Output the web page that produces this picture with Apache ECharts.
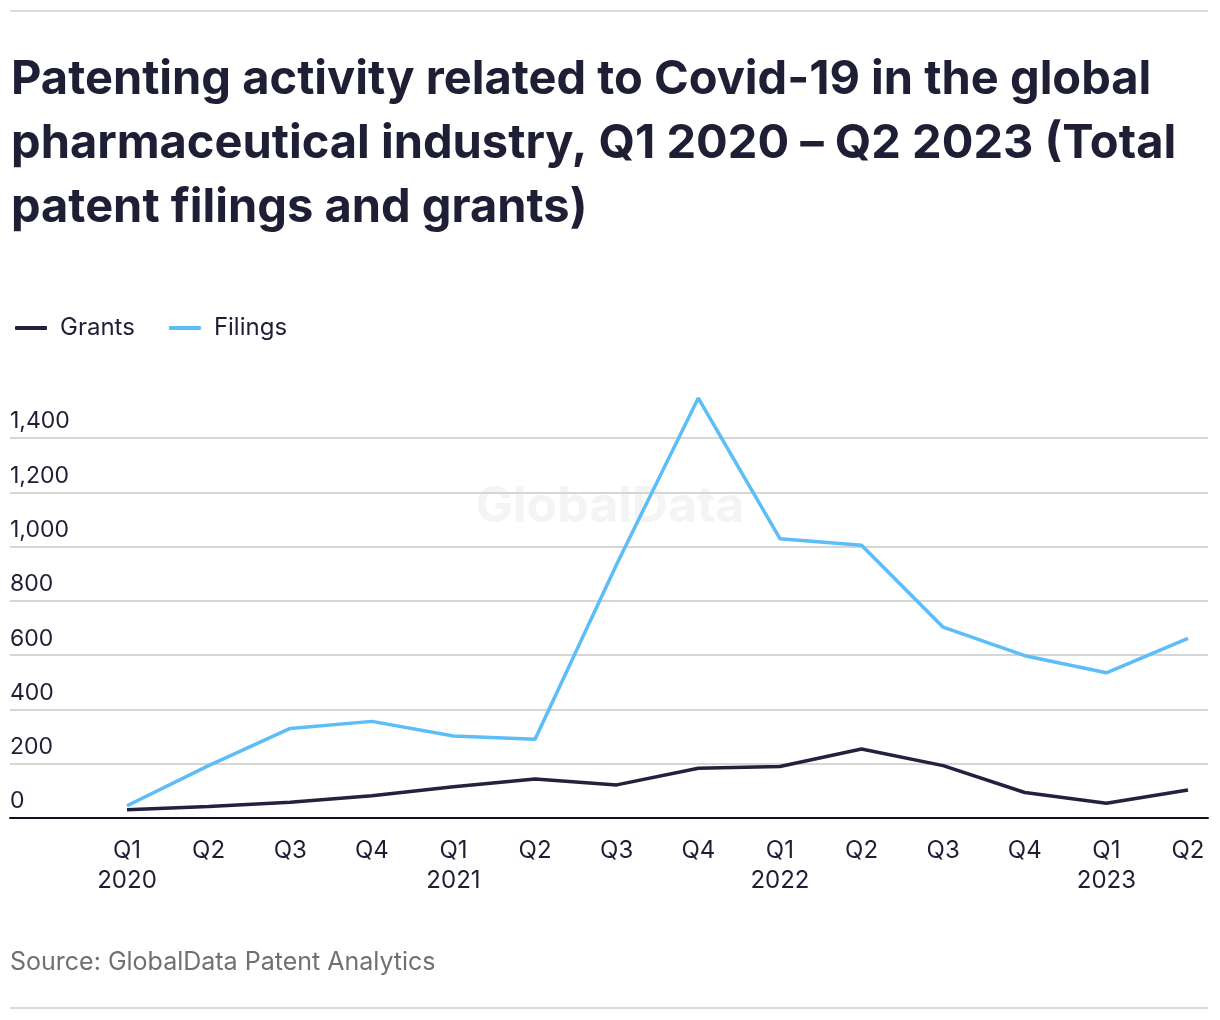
<!DOCTYPE html>
<html>
<head>
<meta charset="utf-8">
<script src="https://cdn.jsdelivr.net/npm/echarts@6/dist/echarts.min.js"></script>
<style>
html,body{margin:0;padding:0;background:#fff;}
#c{width:1220px;height:1020px;}
</style>
</head>
<body>
<div id="c"></div>
<script>
var quarters = ["Q1","Q2","Q3","Q4","Q1","Q2","Q3","Q4","Q1","Q2","Q3","Q4","Q1","Q2"];
var years = ["2020","","","","2021","","","","2022","","","","2023",""];
var grants = [30, 42, 58, 82, 115, 144, 122, 183, 190, 254, 193, 94, 54, 103];
var filings = [45, 193, 330, 356, 302, 290, 935, 1547, 1029, 1005, 703, 598, 535, 662];
var yTicks = [0, 200, 400, 600, 800, 1000, 1200, 1400];

var FONT = 'Inter';
var DARK = '#1e1e35';
var chart = echarts.init(document.getElementById('c'), null, {renderer:'canvas'});
chart.setOption({
  animation: false,
  backgroundColor: '#fff',
  title: {
    text: 'Patenting activity related to Covid-19 in the global\npharmaceutical industry, Q1 2020 – Q2 2023 (Total\npatent filings and grants)',
    left: 6, top: 43,
    textStyle: {fontFamily: FONT, fontWeight: 700, fontSize: 47, lineHeight: 64, color: DARK}
  },
  legend: {
    left: 10, top: 311,
    data: ['Grants','Filings'],
    icon: 'roundRect',
    itemWidth: 32, itemHeight: 4, itemGap: 34,
    textStyle: {fontFamily: FONT, fontSize: 24, color: DARK, padding: [0,0,0,8]}
  },
  graphic: [
    {type:'line', shape:{x1:10,y1:11,x2:1208,y2:11}, style:{stroke:'#dcdcdc', lineWidth:2}},
    {type:'line', shape:{x1:10,y1:1008,x2:1208,y2:1008}, style:{stroke:'#dcdcdc', lineWidth:2}},
    {type:'text', left: 10, top: 950, style:{text:'Source: GlobalData Patent Analytics', fill:'#707070', font:'25px Inter'}},
    {type:'text', left: 'center', top: 482, z: 0, style:{text:'GlobalData', fill:'#f4f4f4', font:'bold 50px Inter'}}
  ],
  grid: [
    {left: 127, right: 32, top: 438, bottom: 202},
    {left: 10, right: 12, top: 438, bottom: 202}
  ],
  xAxis: [
    {
      type: 'category', gridIndex: 0, boundaryGap: false,
      data: quarters.map(function(q,i){ return years[i] ? q + '\n' + years[i] : q; }),
      axisLine: {show: false}, axisTick: {show: false},
      axisLabel: {interval: 0, margin: 18, fontFamily: FONT, fontSize: 24, lineHeight: 30, color: DARK, verticalAlign: 'top'}
    },
    {
      type: 'value', gridIndex: 1, min: 0, max: 1,
      axisLine: {show: true, onZero: false, lineStyle: {color: '#111122', width: 2}},
      axisTick: {show: false}, axisLabel: {show: false}, splitLine: {show: false}
    }
  ],
  yAxis: [
    {
      type: 'value', gridIndex: 0, min: 0, max: 1400, interval: 200,
      axisLine: {show:false}, axisTick:{show:false}, axisLabel:{show:false}, splitLine:{show:false}
    },
    {
      type: 'value', gridIndex: 1, min: yTicks[0], max: yTicks[yTicks.length-1], interval: 200,
      axisLine: {show:false}, axisTick:{show:false},
      axisLabel: {
        inside: true, margin: 0, align: 'left', verticalAlign: 'bottom', padding: [0,0,5,0],
        fontFamily: FONT, fontSize: 23, color: DARK,
        formatter: function(v){ return v.toLocaleString('en-US'); }
      },
      splitLine: {show: true, lineStyle: {color: '#d6d6d6', width: 2}}
    }
  ],
  series: [
    {
      name: 'Grants', type: 'line', xAxisIndex: 0, yAxisIndex: 0, data: grants,
      symbol: 'none', clip: false, z: 3,
      lineStyle: {color: '#22223f', width: 3.5}, itemStyle: {color: '#22223f'}
    },
    {
      name: 'Filings', type: 'line', xAxisIndex: 0, yAxisIndex: 0, data: filings,
      symbol: 'none', clip: false, z: 3,
      lineStyle: {color: '#5cbdf7', width: 3.5}, itemStyle: {color: '#5cbdf7'}
    }
  ]
});
</script>
</body>
</html>
